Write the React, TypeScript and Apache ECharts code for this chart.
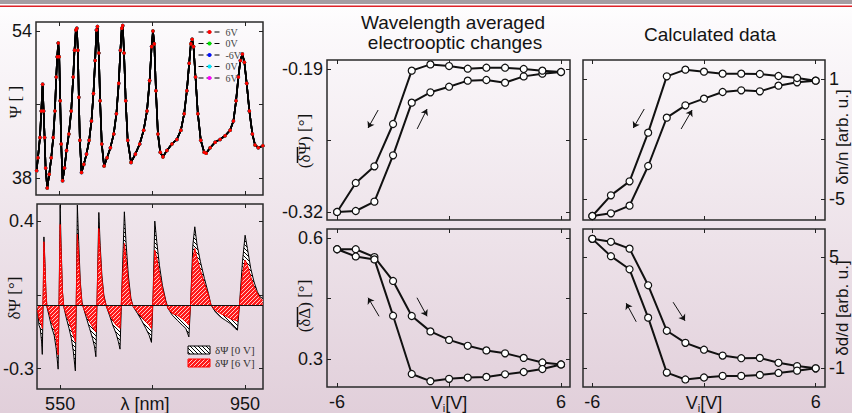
import React, { useEffect, useRef } from 'react';
import * as echarts from 'echarts';

// ---------------- data ----------------
const psiWavelengths = [
  501.3, 504.2, 508.5, 511.4, 514.2, 516.4, 518.5, 520.7, 524.2,
  528.5, 532.8, 537.1, 540.7, 543.6, 545.7, 547.9, 550, 552.1, 554.3, 557.2,
  561.4, 565.7, 570.8, 575.8, 580.1, 582.9, 585.8, 587.9, 590.1, 592.2, 594.4, 598,
  603, 608.7, 614.4, 619.4, 623.7, 627.3, 630.1, 632.3, 635.2, 638, 641.6, 646.6,
  653, 660.2, 667.4, 673.1, 678.1, 681.7, 684.6, 686.7, 689.5, 693.1, 697.4, 704.6,
  713.9, 723.2, 731.8, 739, 744.6, 748.9, 751.8, 754.7, 758.2, 762.5, 767.5, 773.3,
  781.8, 792.6, 803.3, 811.9, 819, 824.8, 829.8, 833.4, 836.2, 839.1, 843.4, 848.4, 854.8, 862, 866.3,
  874.9, 885.6, 896.3, 907.1, 917.8, 925, 930.7, 935.7, 940, 944.3, 948.6, 953.6, 959.3, 965.8, 971.5, 978.6, 988.5,
];
const psiValues = [
  38.8, 40.2, 42.4, 45.3, 48.2, 45.3, 42.4, 39.1, 36.9,
  38.4, 40.2, 42.4, 45.3, 49.0, 51.2, 52.7, 51.2, 46.4, 41.7, 37.7,
  39.1, 41.0, 42.8, 45.3, 49.0, 51.9, 54.1, 54.3, 51.9, 46.8, 42.1, 38.6,
  39.5, 40.6, 42.1, 44.2, 47.2, 50.8, 54.1, 54.5, 51.6, 46.4, 41.7, 39.3,
  40.2, 41.3, 42.8, 45.0, 48.3, 51.9, 54.3, 54.6, 51.6, 46.4, 42.1, 39.7,
  40.6, 41.7, 43.2, 45.3, 48.6, 52.3, 54.0, 52.6, 47.5, 42.8, 40.8, 40.3,
  41.0, 41.7, 42.2, 43.2, 45.0, 47.5, 50.5, 52.6, 53.1, 52.3, 49.0, 45.0, 42.1, 40.8, 40.7,
  41.3, 41.9, 42.2, 42.6, 43.2, 44.2, 46.4, 49.0, 50.8, 51.5, 50.6, 48.3, 45.3, 42.8, 41.6, 41.3, 41.5,
];
const psiSeriesNames = ['6V', '0V', '-6V', '0V ', '6V '];
const psiSeriesColors = ['#ff0000', '#00e000', '#0010ff', '#00e8ff', '#ff00ff'];

const dPsiWavelengths = [
  501.3, 504.2, 507, 509.9, 511.4, 513.5, 514.9, 517.1, 519.2, 521.4,
  525.7, 531.4, 537.1, 541.4, 545.7, 547.9, 550, 552.1, 555, 557.9,
  563.6, 569.3, 574.3, 578.6, 582.9, 585.1, 587.2, 590.1, 593.6, 597.2,
  600.8, 607.2, 613.7, 620.1, 624.4, 627.3, 630.1, 633.7, 636.6, 640.2,
  644.5, 650.2, 656.6, 663.8, 671, 676, 679.5, 683.1, 688.9, 692.4,
  697.4, 703.1, 708.1, 717.4, 726, 735.3, 742.5, 747.5, 751.1, 754.7,
  759, 764.7, 771.1, 778.3, 783.3, 792.6, 803.3, 814, 821.9, 828.4,
  832, 837, 841.2, 846.2, 853.4, 862, 870.6, 876.3, 885.6, 896.3,
  907.1, 917.8, 928.5, 933.5, 937.8, 944.3, 950, 955, 962.2, 969.3,
  976.5, 982.2, 988,
];
const dPsi0V = [
  -0.014, -0.093, -0.109, -0.172, -0.232, 0.049, 0.325, 0.207, 0.065, -0.006,
  -0.046, -0.101, -0.141, -0.204, -0.302, 0.049, 0.476, 0.286, 0.065, -0.006,
  -0.062, -0.109, -0.156, -0.22, -0.31, 0.049, 0.476, 0.302, 0.112, 0.017,
  -0.014, -0.062, -0.109, -0.156, -0.196, -0.243, 0.049, 0.441, 0.286, 0.144,
  0.049, -0.006, -0.046, -0.093, -0.133, -0.172, -0.207, 0.049, 0.444, 0.302,
  0.144, 0.033, -0.006, -0.038, -0.07, -0.109, -0.141, -0.175, 0.049, 0.4,
  0.302, 0.191, 0.096, 0.025, -0.014, -0.046, -0.07, -0.093, -0.109, -0.149,
  0.002, 0.286, 0.373, 0.286, 0.207, 0.128, 0.057, 0.002, -0.03, -0.054,
  -0.07, -0.085, -0.109, -0.117, 0.002, 0.207, 0.333, 0.27, 0.175, 0.112,
  0.065, 0.041, 0.033,
];
const dPsi6V = [
  -0.022, -0.062, -0.077, -0.093, -0.109, 0.08, 0.302, 0.191, 0.065, -0.006,
  -0.03, -0.077, -0.109, -0.156, -0.235, 0.049, 0.384, 0.254, 0.065, -0.006,
  -0.046, -0.077, -0.109, -0.141, -0.172, 0.049, 0.337, 0.239, 0.096, 0.009,
  -0.014, -0.046, -0.077, -0.101, -0.117, -0.125, 0.049, 0.365, 0.254, 0.128,
  0.041, -0.006, -0.038, -0.07, -0.093, -0.101, -0.109, 0.049, 0.294, 0.223,
  0.112, 0.025, -0.006, -0.03, -0.054, -0.077, -0.093, -0.109, 0.049, 0.262,
  0.223, 0.152, 0.081, 0.017, -0.014, -0.038, -0.046, -0.062, -0.077, -0.093,
  0.002, 0.223, 0.27, 0.223, 0.167, 0.104, 0.049, 0.002, -0.022, -0.038,
  -0.049, -0.062, -0.07, -0.074, 0.002, 0.144, 0.215, 0.191, 0.136, 0.088,
  0.057, 0.033, 0.025,
];

const voltages = [-6, -5, -4, -3, -2, -1, 0, 1, 2, 3, 4, 5, 6];
// averaged δΨ
const avgPsiRising = [-0.32, -0.3191, -0.3106, -0.2685, -0.2206, -0.2112, -0.2061, -0.2006, -0.2, -0.2024, -0.1967, -0.1942, -0.1927];
const avgPsiFalling = [-0.32, -0.2936, -0.2785, -0.24, -0.1915, -0.1858, -0.1873, -0.1897, -0.1888, -0.1888, -0.19, -0.1915, -0.1927];
// averaged δΔ
const avgDeltaRising = [0.5724, 0.5724, 0.553, 0.4938, 0.407, 0.3689, 0.3478, 0.3332, 0.3218, 0.3145, 0.3032, 0.2918, 0.287];
const avgDeltaFalling = [0.5724, 0.5546, 0.5473, 0.4078, 0.2634, 0.2456, 0.2513, 0.2545, 0.2561, 0.2626, 0.2683, 0.2756, 0.287];
// calculated δn/n
const dnRising = [-5.85, -5.717, -5.333, -3.35, -0.933, -0.317, 0.017, 0.35, 0.433, 0.383, 0.667, 0.833, 0.917];
const dnFalling = [-5.85, -4.817, -4.117, -1.683, 1.133, 1.467, 1.367, 1.267, 1.267, 1.25, 1.15, 1.05, 0.917];
// calculated δd/d
const ddRising = [5.988, 5.829, 5.459, 3.482, 1.03, 0.377, 0.006, -0.312, -0.453, -0.435, -0.7, -0.876, -1.0];
const ddFalling = [5.988, 5.053, 4.347, 1.735, -1.229, -1.6, -1.494, -1.406, -1.406, -1.353, -1.247, -1.123, -1.0];

// sweep-direction arrows (data coordinates: [start], [end])
const arrowsPsi = [[[-3.8, -0.2273], [-4.34, -0.2436]], [[-1.71, -0.2445], [-1.18, -0.2264]]];
const arrowsDelta = [[[-3.75, 0.4063], [-4.34, 0.4523]], [[-1.72, 0.4523], [-1.18, 0.4063]]];
const arrowsDn = [[[-3.21, -0.5], [-3.8, -1.45]], [[-1.23, -1.5], [-0.64, -0.55]]];
const arrowsDd = [[[-3.64, 1.513], [-4.18, 2.517]], [[-1.66, 2.57], [-1.02, 1.566]]];

// ---------------- styling ----------------
const SANS = '"Liberation Sans", Arial, Helvetica, sans-serif';
const SERIF = '"Liberation Serif", "Times New Roman", serif';
const INK = '#141414';

function hatch(bg: string, fg: string, slash: boolean, w: number) {
  const d = slash
    ? 'M-1,5 L5,-1 M-1,1 L1,-1 M3,5 L5,3'
    : 'M-1,-1 L5,5 M-1,3 L1,5 M3,-1 L5,1';
  const svg = `<svg xmlns="http://www.w3.org/2000/svg" width="4" height="4"><rect width="4" height="4" fill="${bg}"/><path d="${d}" stroke="${fg}" stroke-width="${w}"/></svg>`;
  return {
    image: 'data:image/svg+xml;charset=utf-8,' + encodeURIComponent(svg),
    repeat: 'repeat',
    imageWidth: 4,
    imageHeight: 4,
  };
}

function mkAxis(gridIndex: number, position: string, min: number, max: number, ticks: number[], labels: number[] | null, extra: any = {}) {
  return {
    type: 'value',
    gridIndex,
    position,
    min,
    max,
    axisLine: { show: false, onZero: false },
    splitLine: { show: false },
    axisTick: { show: true, inside: true, length: 4, customValues: ticks, lineStyle: { color: '#222', width: 1 } },
    axisLabel: labels
      ? { show: true, customValues: labels, fontSize: 18, fontFamily: SANS, color: INK, ...extra }
      : { show: false },
  };
}

function loopSeries(idx: number, rising: number[], falling: number[], arrows: number[][][]) {
  const data = [
    ...voltages.map((v, i) => [v, rising[i]]),
    ...voltages.map((v, i) => [v, falling[i]]).reverse(),
  ];
  return {
    type: 'line',
    xAxisIndex: idx,
    yAxisIndex: idx,
    data,
    symbol: 'circle',
    symbolSize: 7,
    lineStyle: { color: '#111', width: 2 },
    itemStyle: { color: '#ffffff', borderColor: '#111', borderWidth: 1.2 },
    z: 3,
    markLine: {
      silent: true,
      symbol: ['none', 'arrow'],
      symbolSize: 6,
      label: { show: false },
      itemStyle: { color: '#111' },
      lineStyle: { color: '#111', width: 1, type: 'solid' },
      data: arrows.map(([a, b]) => [{ coord: a }, { coord: b }]),
    },
  };
}

const viRich = {
  a: { fontSize: 18, fontFamily: SANS, color: INK },
  b: { fontSize: 11, fontFamily: SANS, color: INK, padding: [9, 0, 0, 0] },
};
const viFormatter = (v: number) => (v === 0 ? '{a|V}{b|i}{a|[V]}' : String(v));

function buildOption() {
  const gridBase = { show: true, borderColor: '#2a2a2a', borderWidth: 1.5, backgroundColor: 'transparent' };
  const grid = [
    { ...gridBase, left: 36, top: 22, width: 227, height: 173 },
    { ...gridBase, left: 36, top: 204, width: 227, height: 185 },
    { ...gridBase, left: 327, top: 60, width: 243, height: 160 },
    { ...gridBase, left: 327, top: 229, width: 243, height: 161 },
    { ...gridBase, left: 583, top: 60, width: 242, height: 160 },
    { ...gridBase, left: 583, top: 229, width: 242, height: 161 },
  ];
  const lamTicks = [550, 750, 950];
  const vTicks = [-6, 0, 6];
  const xAxis = [
    mkAxis(0, 'bottom', 500, 988.7, lamTicks, null),
    mkAxis(0, 'top', 500, 988.7, lamTicks, null),
    mkAxis(1, 'bottom', 500, 988.7, lamTicks, [550, 950], { margin: 6 }),
    mkAxis(1, 'top', 500, 988.7, lamTicks, null),
    mkAxis(2, 'bottom', -6.54, 6.48, vTicks, null),
    mkAxis(2, 'top', -6.54, 6.48, vTicks, null),
    mkAxis(3, 'bottom', -6.54, 6.48, vTicks, vTicks, { margin: 6, formatter: viFormatter, rich: viRich }),
    mkAxis(3, 'top', -6.54, 6.48, vTicks, null),
    mkAxis(4, 'bottom', -6.5, 6.5, vTicks, null),
    mkAxis(4, 'top', -6.5, 6.5, vTicks, null),
    mkAxis(5, 'bottom', -6.5, 6.5, vTicks, vTicks, { margin: 6, formatter: viFormatter, rich: viRich }),
    mkAxis(5, 'top', -6.5, 6.5, vTicks, null),
  ];
  const yAxis = [
    mkAxis(0, 'left', 36.15, 54.98, [38, 46, 54], [38, 54], { margin: 4 }),
    mkAxis(0, 'right', 36.15, 54.98, [38, 46, 54], null),
    mkAxis(1, 'left', -0.396, 0.481, [-0.3, 0.05, 0.4], [-0.3, 0.4], { margin: 3 }),
    mkAxis(1, 'right', -0.396, 0.481, [-0.3, 0.05, 0.4], null),
    mkAxis(2, 'left', -0.3273, -0.1818, [-0.32, -0.255, -0.19], [-0.32, -0.19], { margin: 4 }),
    mkAxis(2, 'right', -0.3273, -0.1818, [-0.32, -0.255, -0.19], null),
    mkAxis(3, 'left', 0.2311, 0.6226, [0.3, 0.45, 0.6], [0.3, 0.6], { margin: 4 }),
    mkAxis(3, 'right', 0.2311, 0.6226, [0.3, 0.45, 0.6], null),
    mkAxis(4, 'right', -6.05, 1.95, [-5, -2, 1], [-5, 1], { margin: 4 }),
    mkAxis(4, 'left', -6.05, 1.95, [-5, -2, 1], null),
    mkAxis(5, 'right', -2.006, 6.52, [-1, 2, 5], [-1, 5], { margin: 4 }),
    mkAxis(5, 'left', -2.006, 6.52, [-1, 2, 5], null),
  ];

  const psiData = psiWavelengths.map((x, i) => [x, psiValues[i]]);
  const psiSeries = psiSeriesNames.map((name, k) => ({
    type: 'line',
    name,
    xAxisIndex: 0,
    yAxisIndex: 0,
    data: psiData,
    symbol: 'circle',
    symbolSize: 3.5,
    lineStyle: { color: '#000', width: 1.6 },
    itemStyle: { color: psiSeriesColors[k] },
    z: 10 - k,
  }));

  const hatchBlack = hatch('#ffffff', '#000000', false, 1);
  const hatchRed = hatch('#ff1a1a', '#ffffff', true, 0.8);

  const series: any[] = [
    ...psiSeries,
    {
      type: 'line',
      name: 'δΨ [0 V]',
      xAxisIndex: 2,
      yAxisIndex: 2,
      data: dPsiWavelengths.map((x, i) => [x, dPsi0V[i]]),
      symbol: 'none',
      lineStyle: { color: '#000', width: 1 },
      areaStyle: { color: hatchBlack, opacity: 1 },
      z: 2,
    },
    {
      type: 'line',
      name: 'δΨ [6 V]',
      xAxisIndex: 2,
      yAxisIndex: 2,
      data: dPsiWavelengths.map((x, i) => [x, dPsi6V[i]]),
      symbol: 'none',
      lineStyle: { color: '#ff0000', width: 1 },
      areaStyle: { color: hatchRed, opacity: 1 },
      z: 3,
      markLine: {
        silent: true,
        symbol: 'none',
        label: { show: false },
        lineStyle: { color: '#111', width: 1.2, type: 'solid' },
        data: [{ yAxis: 0 }],
      },
    },
    loopSeries(4, avgPsiRising, avgPsiFalling, arrowsPsi),
    loopSeries(6, avgDeltaRising, avgDeltaFalling, arrowsDelta),
    loopSeries(8, dnRising, dnFalling, arrowsDn),
    loopSeries(10, ddRising, ddFalling, arrowsDd),
  ];

  const txt = (x: number, y: number, text: string, size: number, family: string, opts: any = {}) => ({
    type: 'text',
    x,
    y,
    rotation: opts.rotation || 0,
    silent: true,
    style: {
      text,
      fontSize: size,
      fontFamily: family,
      fill: opts.fill || INK,
      align: opts.align || 'center',
      verticalAlign: 'middle',
      textAlign: opts.align || 'center',
      textVerticalAlign: 'middle',
    },
  });

  const R = Math.PI / 2;
  const graphic = [
    { type: 'rect', silent: true, shape: { x: 0, y: 0, width: 852, height: 4 }, style: { fill: '#a59da2' } },
    { type: 'rect', silent: true, shape: { x: 0, y: 5.5, width: 852, height: 1.6 }, style: { fill: '#de2027' } },
    txt(453, 22, 'Wavelength averaged', 19, SANS),
    txt(455, 42, 'electrooptic changes', 19, SANS),
    txt(710, 34, 'Calculated data', 19, SANS),
    txt(15, 102, 'Ψ [ ]', 17, SERIF, { rotation: R }),
    txt(14, 298, 'δΨ [°]', 17, SERIF, { rotation: R }),
    txt(145, 404, 'λ [nm]', 18, SANS),
    txt(304, 141, '(δΨ) [°]', 17, SERIF, { rotation: R }),
    txt(304, 306, '(δΔ) [°]', 17, SERIF, { rotation: R }),
    { type: 'line', silent: true, shape: { x1: 297.5, y1: 147, x2: 297.5, y2: 163 }, style: { stroke: '#111', lineWidth: 1.5 } },
    { type: 'line', silent: true, shape: { x1: 297.5, y1: 307, x2: 297.5, y2: 327 }, style: { stroke: '#111', lineWidth: 1.5 } },
    txt(842, 137, 'δn/n [arb. u.]', 17, SANS, { rotation: R }),
    txt(842, 308, 'δd/d [arb. u.]', 17, SANS, { rotation: R }),
    { type: 'rect', silent: true, shape: { x: 188, y: 346, width: 22, height: 8 }, style: { fill: hatchBlack, stroke: '#000', lineWidth: 1 } },
    { type: 'rect', silent: true, shape: { x: 188, y: 359, width: 22, height: 8 }, style: { fill: hatchRed, stroke: '#ff0000', lineWidth: 1 } },
    txt(215, 350, 'δΨ [0 V]', 11, SERIF, { align: 'left', fill: '#333' }),
    txt(215, 363, 'δΨ [6 V]', 11, SERIF, { align: 'left', fill: '#333' }),
  ];

  return {
    animation: false,
    backgroundColor: 'transparent',
    grid,
    xAxis,
    yAxis,
    legend: {
      data: psiSeriesNames,
      orient: 'vertical',
      left: 198,
      top: 27,
      padding: 0,
      itemWidth: 22,
      itemHeight: 5,
      itemGap: 1.5,
      selectedMode: false,
      textStyle: { fontFamily: SERIF, fontSize: 10, color: '#444', lineHeight: 10 },
      lineStyle: { type: [5, 3], width: 1 },
    },
    series,
    graphic,
  };
}

export default function App() {
  const ref = useRef<HTMLDivElement>(null);
  useEffect(() => {
    document.body.style.margin = '0';
    const chart = echarts.init(ref.current as HTMLDivElement, null, { renderer: 'svg' });
    chart.setOption(buildOption() as any);
    return () => chart.dispose();
  }, []);
  return (
    <div
      style={{
        width: 852,
        height: 413,
        background: 'linear-gradient(180deg, #ffffff 0px, #fcfafc 24px, #e1cfda 413px)',
      }}
    >
      <div ref={ref} style={{ width: 852, height: 413 }} />
    </div>
  );
}
